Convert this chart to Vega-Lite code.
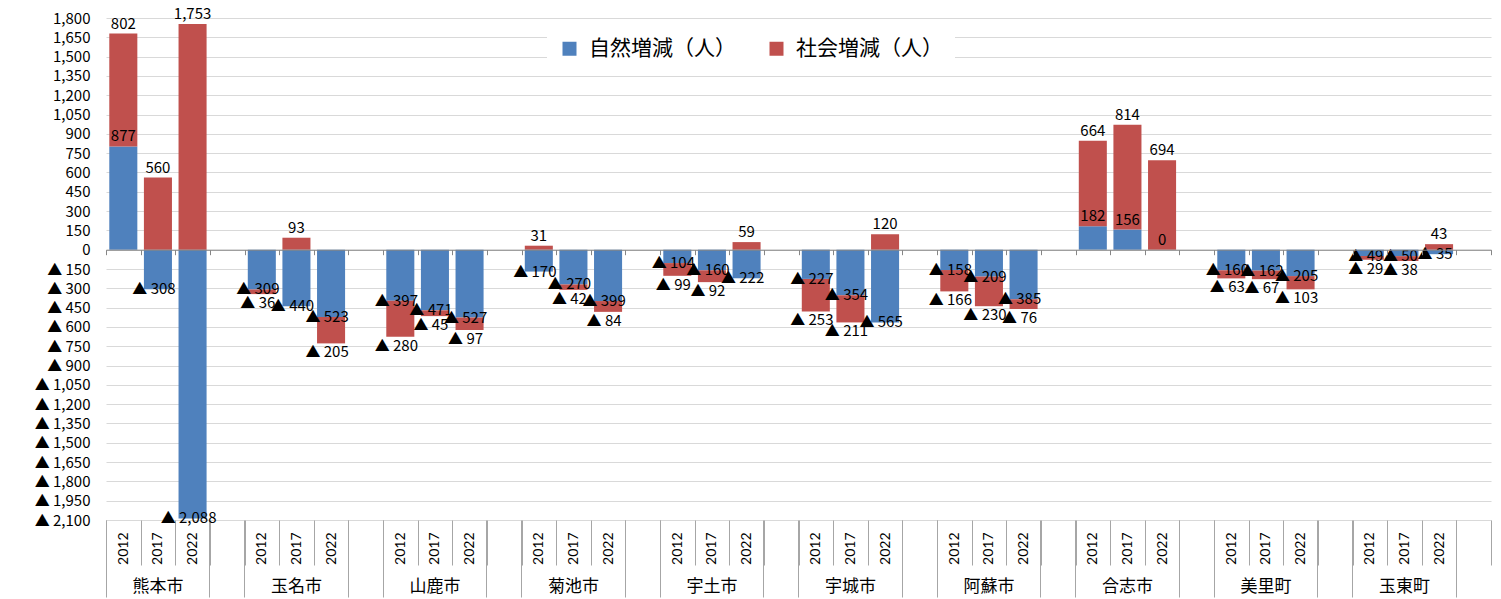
{
  "$schema": "https://vega.github.io/schema/vega-lite/v6.json",
  "width": 1385,
  "height": 502,
  "autosize": {"type": "none"},
  "padding": {"left": 106, "top": 18, "right": 10, "bottom": 79},
  "background": "white",
  "config": {"view": {"stroke": null}, "font": "Noto Sans CJK JP"},
  "data": {
    "values": [
      {"city": "熊本市", "year": "2012", "type": "自然増減（人）", "value": 802, "shown": 877},
      {"city": "熊本市", "year": "2012", "type": "社会増減（人）", "value": 877, "shown": 802},
      {"city": "熊本市", "year": "2017", "type": "自然増減（人）", "value": -308},
      {"city": "熊本市", "year": "2017", "type": "社会増減（人）", "value": 560},
      {"city": "熊本市", "year": "2022", "type": "自然増減（人）", "value": -2088},
      {"city": "熊本市", "year": "2022", "type": "社会増減（人）", "value": 1753},
      {"city": "玉名市", "year": "2012", "type": "自然増減（人）", "value": -309},
      {"city": "玉名市", "year": "2012", "type": "社会増減（人）", "value": -36},
      {"city": "玉名市", "year": "2017", "type": "自然増減（人）", "value": -440},
      {"city": "玉名市", "year": "2017", "type": "社会増減（人）", "value": 93},
      {"city": "玉名市", "year": "2022", "type": "自然増減（人）", "value": -523},
      {"city": "玉名市", "year": "2022", "type": "社会増減（人）", "value": -205},
      {"city": "山鹿市", "year": "2012", "type": "自然増減（人）", "value": -397},
      {"city": "山鹿市", "year": "2012", "type": "社会増減（人）", "value": -280},
      {"city": "山鹿市", "year": "2017", "type": "自然増減（人）", "value": -471},
      {"city": "山鹿市", "year": "2017", "type": "社会増減（人）", "value": -45},
      {"city": "山鹿市", "year": "2022", "type": "自然増減（人）", "value": -527},
      {"city": "山鹿市", "year": "2022", "type": "社会増減（人）", "value": -97},
      {"city": "菊池市", "year": "2012", "type": "自然増減（人）", "value": -170},
      {"city": "菊池市", "year": "2012", "type": "社会増減（人）", "value": 31},
      {"city": "菊池市", "year": "2017", "type": "自然増減（人）", "value": -270},
      {"city": "菊池市", "year": "2017", "type": "社会増減（人）", "value": -42},
      {"city": "菊池市", "year": "2022", "type": "自然増減（人）", "value": -399},
      {"city": "菊池市", "year": "2022", "type": "社会増減（人）", "value": -84},
      {"city": "宇土市", "year": "2012", "type": "自然増減（人）", "value": -104},
      {"city": "宇土市", "year": "2012", "type": "社会増減（人）", "value": -99},
      {"city": "宇土市", "year": "2017", "type": "自然増減（人）", "value": -160},
      {"city": "宇土市", "year": "2017", "type": "社会増減（人）", "value": -92},
      {"city": "宇土市", "year": "2022", "type": "自然増減（人）", "value": -222},
      {"city": "宇土市", "year": "2022", "type": "社会増減（人）", "value": 59},
      {"city": "宇城市", "year": "2012", "type": "自然増減（人）", "value": -227},
      {"city": "宇城市", "year": "2012", "type": "社会増減（人）", "value": -253},
      {"city": "宇城市", "year": "2017", "type": "自然増減（人）", "value": -354},
      {"city": "宇城市", "year": "2017", "type": "社会増減（人）", "value": -211},
      {"city": "宇城市", "year": "2022", "type": "自然増減（人）", "value": -565},
      {"city": "宇城市", "year": "2022", "type": "社会増減（人）", "value": 120},
      {"city": "阿蘇市", "year": "2012", "type": "自然増減（人）", "value": -158},
      {"city": "阿蘇市", "year": "2012", "type": "社会増減（人）", "value": -166},
      {"city": "阿蘇市", "year": "2017", "type": "自然増減（人）", "value": -209},
      {"city": "阿蘇市", "year": "2017", "type": "社会増減（人）", "value": -230},
      {"city": "阿蘇市", "year": "2022", "type": "自然増減（人）", "value": -385},
      {"city": "阿蘇市", "year": "2022", "type": "社会増減（人）", "value": -76},
      {"city": "合志市", "year": "2012", "type": "自然増減（人）", "value": 182},
      {"city": "合志市", "year": "2012", "type": "社会増減（人）", "value": 664},
      {"city": "合志市", "year": "2017", "type": "自然増減（人）", "value": 156},
      {"city": "合志市", "year": "2017", "type": "社会増減（人）", "value": 814},
      {"city": "合志市", "year": "2022", "type": "自然増減（人）", "value": 0},
      {"city": "合志市", "year": "2022", "type": "社会増減（人）", "value": 694},
      {"city": "美里町", "year": "2012", "type": "自然増減（人）", "value": -160},
      {"city": "美里町", "year": "2012", "type": "社会増減（人）", "value": -63},
      {"city": "美里町", "year": "2017", "type": "自然増減（人）", "value": -162},
      {"city": "美里町", "year": "2017", "type": "社会増減（人）", "value": -67},
      {"city": "美里町", "year": "2022", "type": "自然増減（人）", "value": -205},
      {"city": "美里町", "year": "2022", "type": "社会増減（人）", "value": -103},
      {"city": "玉東町", "year": "2012", "type": "自然増減（人）", "value": -49},
      {"city": "玉東町", "year": "2012", "type": "社会増減（人）", "value": -29},
      {"city": "玉東町", "year": "2017", "type": "自然増減（人）", "value": -50},
      {"city": "玉東町", "year": "2017", "type": "社会増減（人）", "value": -38},
      {"city": "玉東町", "year": "2022", "type": "自然増減（人）", "value": -35},
      {"city": "玉東町", "year": "2022", "type": "社会増減（人）", "value": 43}
    ]
  },
  "transform": [
    {"calculate": "datum.city + '|' + datum.year", "as": "key"},
    {"calculate": "datum.type == '自然増減（人）' ? 0 : 1", "as": "ord"},
    {"calculate": "isValid(datum.shown) ? datum.shown : datum.value", "as": "disp"},
    {"calculate": "datum.disp < 0 ? '▲ ' + format(-datum.disp, ',') : format(datum.disp, ',')", "as": "lbl"}
  ],
  "layer": [
    {
      "layer": [
        {
          "mark": {"type": "bar", "width": {"band": 0.81}},
          "encoding": {
            "x": {"field": "key", "type": "nominal", "axis": null,
              "scale": {"type": "band", "paddingInner": 0, "paddingOuter": 0, "domain": ["熊本市|2012","熊本市|2017","熊本市|2022","熊本市|gap","玉名市|2012","玉名市|2017","玉名市|2022","玉名市|gap","山鹿市|2012","山鹿市|2017","山鹿市|2022","山鹿市|gap","菊池市|2012","菊池市|2017","菊池市|2022","菊池市|gap","宇土市|2012","宇土市|2017","宇土市|2022","宇土市|gap","宇城市|2012","宇城市|2017","宇城市|2022","宇城市|gap","阿蘇市|2012","阿蘇市|2017","阿蘇市|2022","阿蘇市|gap","合志市|2012","合志市|2017","合志市|2022","合志市|gap","美里町|2012","美里町|2017","美里町|2022","美里町|gap","玉東町|2012","玉東町|2017","玉東町|2022","玉東町|gap"]}},
            "y": {"field": "value", "type": "quantitative", "stack": "zero",
              "scale": {"domain": [-2100, 1800], "nice": false},
              "axis": {"title": null, "domain": false, "ticks": false, "grid": true, "gridColor": "#d9d9d9", "gridWidth": 1,
                "tickCount": 40,
                "labelPadding": 16, "labelFontSize": 15, "labelFont": "Noto Sans CJK JP", "labelColor": "#000",
                "labelOverlap": false, "labelBound": false, "labelFlush": false,
                "values": [-2100,-1950,-1800,-1650,-1500,-1350,-1200,-1050,-900,-750,-600,-450,-300,-150,0,150,300,450,600,750,900,1050,1200,1350,1500,1650,1800],
                "labelExpr": "datum.value < 0 ? '▲ ' + format(-datum.value, ',') : format(datum.value, ',')"}},
            "color": {"field": "type", "type": "nominal",
              "scale": {"domain": ["自然増減（人）", "社会増減（人）"], "range": ["#4F81BD", "#C0504D"]},
              "legend": {"orient": "none", "legendX": 441, "legendY": 8, "direction": "horizontal", "title": null,
                "symbolType": "square", "symbolSize": 196, "symbolStrokeWidth": 0, "symbolOpacity": 1,
                "labelFontSize": 21, "labelFont": "Noto Sans CJK JP", "labelColor": "#000", "labelLimit": 300,
                "labelOffset": 9, "columnPadding": 30, "padding": 12, "fillColor": "white"}},
            "order": {"field": "ord", "type": "quantitative"}
          }
        },
        {
          "transform": [
            {"stack": "value", "groupby": ["key"], "sort": [{"field": "ord", "order": "ascending"}], "as": ["v0", "v1"], "offset": "zero"},
            {"filter": "datum.value >= 0"}
          ],
          "mark": {"type": "text", "baseline": "bottom", "dy": -2, "fontSize": 15, "font": "Noto Sans CJK JP", "color": "#000"},
          "encoding": {
            "x": {"field": "key", "type": "nominal", "axis": null,
              "scale": {"type": "band", "paddingInner": 0, "paddingOuter": 0, "domain": ["熊本市|2012","熊本市|2017","熊本市|2022","熊本市|gap","玉名市|2012","玉名市|2017","玉名市|2022","玉名市|gap","山鹿市|2012","山鹿市|2017","山鹿市|2022","山鹿市|gap","菊池市|2012","菊池市|2017","菊池市|2022","菊池市|gap","宇土市|2012","宇土市|2017","宇土市|2022","宇土市|gap","宇城市|2012","宇城市|2017","宇城市|2022","宇城市|gap","阿蘇市|2012","阿蘇市|2017","阿蘇市|2022","阿蘇市|gap","合志市|2012","合志市|2017","合志市|2022","合志市|gap","美里町|2012","美里町|2017","美里町|2022","美里町|gap","玉東町|2012","玉東町|2017","玉東町|2022","玉東町|gap"]}},
            "y": {"field": "v1", "type": "quantitative", "scale": {"domain": [-2100, 1800], "nice": false}},
            "text": {"field": "lbl", "type": "nominal"}
          }
        },
        {
          "transform": [
            {"stack": "value", "groupby": ["key"], "sort": [{"field": "ord", "order": "ascending"}], "as": ["v0", "v1"], "offset": "zero"},
            {"filter": "datum.value < 0 && datum.ord == 0"}
          ],
          "mark": {"type": "text", "baseline": "middle", "dx": -4, "fontSize": 15, "font": "Noto Sans CJK JP", "color": "#000"},
          "encoding": {
            "x": {"field": "key", "type": "nominal", "axis": null,
              "scale": {"type": "band", "paddingInner": 0, "paddingOuter": 0, "domain": ["熊本市|2012","熊本市|2017","熊本市|2022","熊本市|gap","玉名市|2012","玉名市|2017","玉名市|2022","玉名市|gap","山鹿市|2012","山鹿市|2017","山鹿市|2022","山鹿市|gap","菊池市|2012","菊池市|2017","菊池市|2022","菊池市|gap","宇土市|2012","宇土市|2017","宇土市|2022","宇土市|gap","宇城市|2012","宇城市|2017","宇城市|2022","宇城市|gap","阿蘇市|2012","阿蘇市|2017","阿蘇市|2022","阿蘇市|gap","合志市|2012","合志市|2017","合志市|2022","合志市|gap","美里町|2012","美里町|2017","美里町|2022","美里町|gap","玉東町|2012","玉東町|2017","玉東町|2022","玉東町|gap"]}},
            "y": {"field": "v1", "type": "quantitative", "scale": {"domain": [-2100, 1800], "nice": false}},
            "text": {"field": "lbl", "type": "nominal"}
          }
        },
        {
          "transform": [
            {"stack": "value", "groupby": ["key"], "sort": [{"field": "ord", "order": "ascending"}], "as": ["v0", "v1"], "offset": "zero"},
            {"filter": "datum.value < 0 && datum.ord == 1"}
          ],
          "mark": {"type": "text", "baseline": "top", "dy": 2, "dx": -4, "fontSize": 15, "font": "Noto Sans CJK JP", "color": "#000"},
          "encoding": {
            "x": {"field": "key", "type": "nominal", "axis": null,
              "scale": {"type": "band", "paddingInner": 0, "paddingOuter": 0, "domain": ["熊本市|2012","熊本市|2017","熊本市|2022","熊本市|gap","玉名市|2012","玉名市|2017","玉名市|2022","玉名市|gap","山鹿市|2012","山鹿市|2017","山鹿市|2022","山鹿市|gap","菊池市|2012","菊池市|2017","菊池市|2022","菊池市|gap","宇土市|2012","宇土市|2017","宇土市|2022","宇土市|gap","宇城市|2012","宇城市|2017","宇城市|2022","宇城市|gap","阿蘇市|2012","阿蘇市|2017","阿蘇市|2022","阿蘇市|gap","合志市|2012","合志市|2017","合志市|2022","合志市|gap","美里町|2012","美里町|2017","美里町|2022","美里町|gap","玉東町|2012","玉東町|2017","玉東町|2022","玉東町|gap"]}},
            "y": {"field": "v1", "type": "quantitative", "scale": {"domain": [-2100, 1800], "nice": false}},
            "text": {"field": "lbl", "type": "nominal"}
          }
        }
      ]
    },
    {
      "mark": {"type": "bar", "opacity": 0},
      "encoding": {
        "x": {"field": "key", "type": "nominal",
          "scale": {"type": "band", "paddingInner": 0, "paddingOuter": 0, "domain": ["熊本市|2012","熊本市|2017","熊本市|2022","熊本市|gap","玉名市|2012","玉名市|2017","玉名市|2022","玉名市|gap","山鹿市|2012","山鹿市|2017","山鹿市|2022","山鹿市|gap","菊池市|2012","菊池市|2017","菊池市|2022","菊池市|gap","宇土市|2012","宇土市|2017","宇土市|2022","宇土市|gap","宇城市|2012","宇城市|2017","宇城市|2022","宇城市|gap","阿蘇市|2012","阿蘇市|2017","阿蘇市|2022","阿蘇市|gap","合志市|2012","合志市|2017","合志市|2022","合志市|gap","美里町|2012","美里町|2017","美里町|2022","美里町|gap","玉東町|2012","玉東町|2017","玉東町|2022","玉東町|gap"]},
          "axis": {"orient": "bottom", "title": null, "offset": {"expr": "scale('y', 0) - height"}, "labels": false, "grid": false,
            "ticks": true, "tickBand": "extent", "tickSize": 5, "tickColor": "#868686", "tickWidth": 1,
            "domain": true, "domainColor": "#868686", "domainWidth": 1, "zindex": 1}}
      }
    },
    {
      "mark": {"type": "bar", "opacity": 0},
      "encoding": {
        "x": {"field": "key", "type": "nominal",
          "scale": {"type": "band", "paddingInner": 0, "paddingOuter": 0, "domain": ["熊本市|2012","熊本市|2017","熊本市|2022","熊本市|gap","玉名市|2012","玉名市|2017","玉名市|2022","玉名市|gap","山鹿市|2012","山鹿市|2017","山鹿市|2022","山鹿市|gap","菊池市|2012","菊池市|2017","菊池市|2022","菊池市|gap","宇土市|2012","宇土市|2017","宇土市|2022","宇土市|gap","宇城市|2012","宇城市|2017","宇城市|2022","宇城市|gap","阿蘇市|2012","阿蘇市|2017","阿蘇市|2022","阿蘇市|gap","合志市|2012","合志市|2017","合志市|2022","合志市|gap","美里町|2012","美里町|2017","美里町|2022","美里町|gap","玉東町|2012","玉東町|2017","玉東町|2022","玉東町|gap"]},
          "axis": {"orient": "bottom", "title": null, "domain": false, "grid": false,
            "ticks": true, "tickBand": "extent", "tickSize": 45, "tickColor": "#a6a6a6", "tickWidth": 1,
            "labelAngle": 270, "labelAlign": "right", "labelBaseline": "middle", "labelPadding": -33,
            "labelFontSize": 14, "labelFont": "Lato", "labelColor": "#000",
            "labelOverlap": false, "labelBound": false, "labelFlush": false,
            "labelExpr": "split(datum.value, '|')[1] == 'gap' ? '' : split(datum.value, '|')[1]"}}
      }
    },
    {
      "mark": {"type": "bar", "opacity": 0},
      "encoding": {
        "x": {"field": "key", "type": "nominal",
          "scale": {"type": "band", "paddingInner": 0, "paddingOuter": 0, "domain": ["熊本市|2012","熊本市|2017","熊本市|2022","熊本市|gap","玉名市|2012","玉名市|2017","玉名市|2022","玉名市|gap","山鹿市|2012","山鹿市|2017","山鹿市|2022","山鹿市|gap","菊池市|2012","菊池市|2017","菊池市|2022","菊池市|gap","宇土市|2012","宇土市|2017","宇土市|2022","宇土市|gap","宇城市|2012","宇城市|2017","宇城市|2022","宇城市|gap","阿蘇市|2012","阿蘇市|2017","阿蘇市|2022","阿蘇市|gap","合志市|2012","合志市|2017","合志市|2022","合志市|gap","美里町|2012","美里町|2017","美里町|2022","美里町|gap","玉東町|2012","玉東町|2017","玉東町|2022","玉東町|gap"]},
          "axis": {"orient": "bottom", "title": null, "domain": false, "grid": false, "labels": false,
            "ticks": true, "bandPosition": 0, "tickSize": 77, "tickColor": "#a6a6a6", "tickWidth": 1,
            "values": ["熊本市|2012","熊本市|gap","玉名市|2012","玉名市|gap","山鹿市|2012","山鹿市|gap","菊池市|2012","菊池市|gap","宇土市|2012","宇土市|gap","宇城市|2012","宇城市|gap","阿蘇市|2012","阿蘇市|gap","合志市|2012","合志市|gap","美里町|2012","美里町|gap","玉東町|2012","玉東町|gap"]}}
      }
    },
    {
      "mark": {"type": "bar", "opacity": 0},
      "encoding": {
        "x": {"field": "key", "type": "nominal",
          "scale": {"type": "band", "paddingInner": 0, "paddingOuter": 0, "domain": ["熊本市|2012","熊本市|2017","熊本市|2022","熊本市|gap","玉名市|2012","玉名市|2017","玉名市|2022","玉名市|gap","山鹿市|2012","山鹿市|2017","山鹿市|2022","山鹿市|gap","菊池市|2012","菊池市|2017","菊池市|2022","菊池市|gap","宇土市|2012","宇土市|2017","宇土市|2022","宇土市|gap","宇城市|2012","宇城市|2017","宇城市|2022","宇城市|gap","阿蘇市|2012","阿蘇市|2017","阿蘇市|2022","阿蘇市|gap","合志市|2012","合志市|2017","合志市|2022","合志市|gap","美里町|2012","美里町|2017","美里町|2022","美里町|gap","玉東町|2012","玉東町|2017","玉東町|2022","玉東町|gap"]},
          "axis": {"orient": "bottom", "title": null, "domain": false, "grid": false, "ticks": false,
            "labelAngle": 0, "labelAlign": "center", "labelBaseline": "top", "labelPadding": 58,
            "labelFontSize": 17, "labelFont": "Noto Sans CJK JP", "labelColor": "#000",
            "labelOverlap": false, "labelBound": false, "labelFlush": false,
            "values": ["熊本市|2017","玉名市|2017","山鹿市|2017","菊池市|2017","宇土市|2017","宇城市|2017","阿蘇市|2017","合志市|2017","美里町|2017","玉東町|2017"],
            "labelExpr": "split(datum.value, '|')[0]"}}
      }
    }
  ],
  "resolve": {"axis": {"x": "independent"}}
}
